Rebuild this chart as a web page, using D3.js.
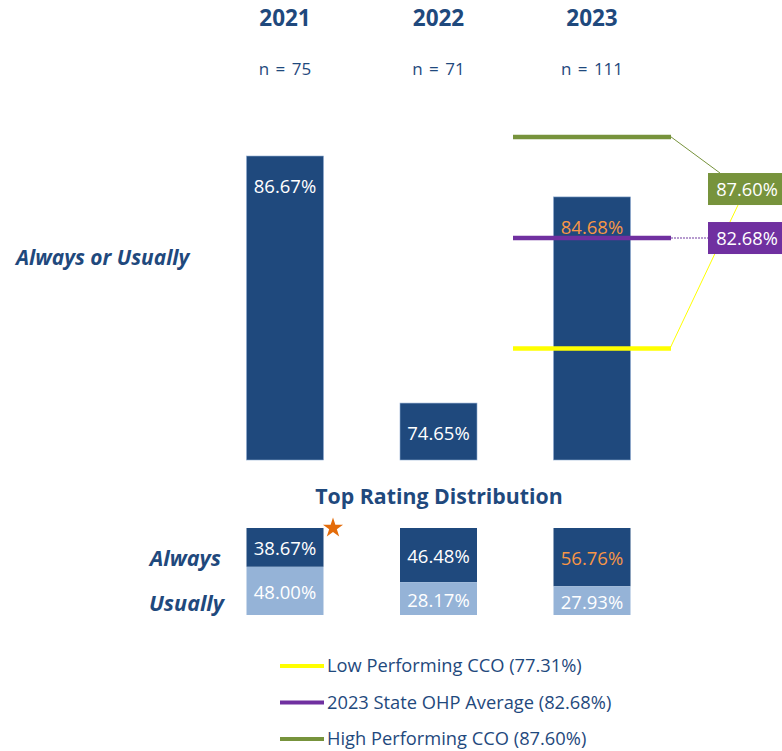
<!DOCTYPE html>
<html>
<head>
<meta charset="utf-8">
<script src="https://cdn.jsdelivr.net/npm/d3@7"></script>
<style>
  body { margin: 0; background: #fff; }
  svg { display: block; font-family: "Open Sans", "Noto Sans", sans-serif; }
</style>
</head>
<body>
<div id="chart"></div>
<script>
const width = 782, height = 751;

// data
const years = ["2021", "2022", "2023"];
const nValues = [75, 71, 111];
const alwaysOrUsually = [86.67, 74.65, 84.68];
const always = [38.67, 46.48, 56.76];
const usually = [48.00, 28.17, 27.93];
const refNames = ["Low Performing CCO", "2023 State OHP Average", "High Performing CCO"];
const refValues = [77.31, 82.68, 87.60];
const refColors = ["#ffff00", "#7030a0", "#77933c"];

const navy = "#1f497d";
const lightBlue = "#95b3d7";
const orange = "#f79646";

let svg = d3.select("#chart").append("svg")
    .attr("width", width)
    .attr("height", height);

let x = d3.scalePoint()
    .domain(years)
    .range([285, 592]);

const barW = 77;

let y = d3.scaleLinear()
    .domain([71.88, 87.6])
    .range([460, 136.9]);

// header
svg.append("g").selectAll("text")
    .data(years)
    .join("text")
        .attr("x", d => x(d))
        .attr("y", 26)
        .attr("text-anchor", "middle")
        .attr("font-weight", "bold")
        .attr("font-size", 22.5)
        .attr("fill", navy)
        .text(d => d);

svg.append("g").selectAll("text")
    .data(years)
    .join("text")
        .attr("x", d => x(d))
        .attr("y", 75)
        .attr("text-anchor", "middle")
        .attr("font-size", 17)
        .attr("word-spacing", 2)
        .attr("fill", navy)
        .text((d, i) => `n = ${nValues[i]}`);

// main bars
svg.append("g").selectAll("rect")
    .data(alwaysOrUsually)
    .join("rect")
        .attr("x", (d, i) => x(years[i]) - barW / 2)
        .attr("width", barW)
        .attr("y", d => y(d))
        .attr("height", d => y.range()[0] - y(d))
        .attr("fill", navy)
        .attr("stroke", "#8eaad0")
        .attr("stroke-width", 0.6);

// reference lines (drawn over the 2023 bar)
const refX0 = 513, refX1 = 671;
svg.append("g").selectAll("line")
    .data(refValues)
    .join("line")
        .attr("x1", refX0)
        .attr("x2", refX1)
        .attr("y1", d => y(d))
        .attr("y2", d => y(d))
        .attr("stroke", (d, i) => refColors[i])
        .attr("stroke-width", 4.5);

svg.append("g").selectAll("text")
    .data(alwaysOrUsually)
    .join("text")
        .attr("x", (d, i) => x(years[i]))
        .attr("y", d => y(d) + 37)
        .attr("text-anchor", "middle")
        .attr("font-size", 18.5)
        .attr("fill", (d, i) => i == 2 ? orange : "#fff")
        .text(d => d.toFixed(2) + "%");

// reference labels and leaders
const boxX = 708, boxW = 74, boxH = 32;
const purpleY = y(refValues[1]);
const greenY = purpleY - 49;
let leaders = svg.append("g");
leaders.append("line")
    .attr("x1", refX1).attr("y1", y(refValues[2]))
    .attr("x2", 720).attr("y2", greenY - boxH / 2)
    .attr("stroke", refColors[2]).attr("stroke-width", 1);
leaders.append("line")
    .attr("x1", refX1).attr("y1", purpleY)
    .attr("x2", boxX).attr("y2", purpleY)
    .attr("stroke", "#a07cc0").attr("stroke-width", 1.5)
    .attr("stroke-dasharray", "2,1");
leaders.append("line")
    .attr("x1", refX1 - 1).attr("y1", y(refValues[0]))
    .attr("x2", 738).attr("y2", greenY + boxH / 2)
    .attr("stroke", refColors[0]).attr("stroke-width", 1);

const boxes = [
    {v: refValues[2], c: refColors[2], cy: greenY},
    {v: refValues[1], c: refColors[1], cy: purpleY}
];
let bx = svg.append("g").selectAll("g")
    .data(boxes)
    .join("g");
bx.append("rect")
    .attr("x", boxX)
    .attr("y", d => d.cy - boxH / 2)
    .attr("width", boxW)
    .attr("height", boxH)
    .attr("fill", d => d.c);
bx.append("text")
    .attr("x", boxX + boxW / 2 + 2)
    .attr("y", d => d.cy + 7)
    .attr("text-anchor", "middle")
    .attr("font-size", 18.3)
    .attr("fill", "#fff")
    .text(d => d.v.toFixed(2) + "%");

// row labels
svg.append("text")
    .attr("x", 16).attr("y", 265)
    .attr("font-weight", "bold").attr("font-style", "italic")
    .attr("font-size", 20.9).attr("fill", navy)
    .text("Always or Usually");

svg.append("text")
    .attr("x", 439).attr("y", 504)
    .attr("text-anchor", "middle")
    .attr("font-weight", "bold")
    .attr("font-size", 21.3).attr("fill", navy)
    .text("Top Rating Distribution");

svg.append("text")
    .attr("x", 221).attr("y", 566)
    .attr("text-anchor", "end")
    .attr("font-weight", "bold").attr("font-style", "italic")
    .attr("font-size", 21.6).attr("fill", navy)
    .text("Always");
svg.append("text")
    .attr("x", 224).attr("y", 611)
    .attr("text-anchor", "end")
    .attr("font-weight", "bold").attr("font-style", "italic")
    .attr("font-size", 21.6).attr("fill", navy)
    .text("Usually");

// distribution bars: 100% stacked of always / usually
let ys = d3.scaleLinear().domain([0, 1]).range([615, 528]);
let dist = years.map((yr, i) => {
    let total = always[i] + usually[i];
    return {yr, a: always[i], u: usually[i], fa: always[i] / total, i};
});
let dg = svg.append("g").selectAll("g")
    .data(dist)
    .join("g");
dg.append("rect")
    .attr("x", d => x(d.yr) - barW / 2)
    .attr("width", barW)
    .attr("y", ys(1))
    .attr("height", d => ys(1 - d.fa) - ys(1))
    .attr("fill", navy);
dg.append("rect")
    .attr("x", d => x(d.yr) - barW / 2)
    .attr("width", barW)
    .attr("y", d => ys(1 - d.fa))
    .attr("height", d => ys(0) - ys(1 - d.fa))
    .attr("fill", lightBlue);
dg.append("text")
    .attr("x", d => x(d.yr))
    .attr("y", d => (ys(1) + ys(1 - d.fa)) / 2 + 8)
    .attr("text-anchor", "middle")
    .attr("font-size", 18.5)
    .attr("fill", d => d.i == 2 ? orange : "#fff")
    .text(d => d.a.toFixed(2) + "%");
dg.append("text")
    .attr("x", d => x(d.yr))
    .attr("y", d => (ys(0) + ys(1 - d.fa)) / 2 + 8)
    .attr("text-anchor", "middle")
    .attr("font-size", 18.5)
    .attr("fill", "#fff")
    .text(d => d.u.toFixed(2) + "%");

// star marker on 2021
svg.append("path")
    .attr("d", d3.symbol(d3.symbolStar, 125)())
    .attr("transform", `translate(${x("2021") + 48},528)`)
    .attr("fill", "#e46c0a");

// legend
let lg = svg.append("g").selectAll("g")
    .data(refNames)
    .join("g")
        .attr("transform", (d, i) => `translate(280,${666 + i * 36.5})`);
lg.append("line")
    .attr("x1", 0).attr("x2", 44)
    .attr("stroke", (d, i) => refColors[i])
    .attr("stroke-width", 4);
lg.append("text")
    .attr("x", 47).attr("y", 6)
    .attr("font-size", 18.3)
    .attr("fill", navy)
    .text((d, i) => `${d} (${refValues[i].toFixed(2)}%)`);
</script>
</body>
</html>
